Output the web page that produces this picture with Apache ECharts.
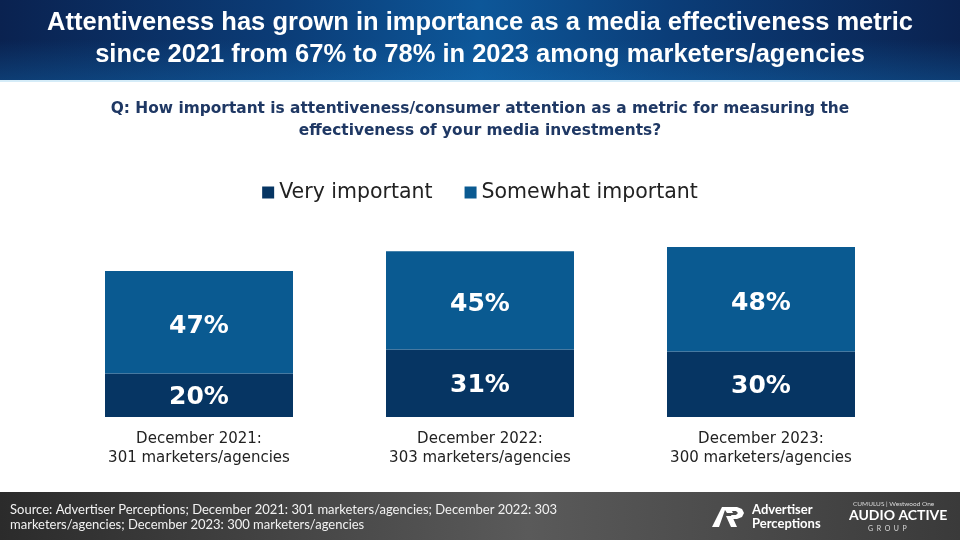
<!DOCTYPE html>
<html><head><meta charset="utf-8">
<script src="https://cdn.jsdelivr.net/npm/echarts@6/dist/echarts.min.js"></script>
<style>html,body{margin:0;padding:0;background:#fff}#c{width:960px;height:540px}</style>
</head><body><div id="c"></div>
<script>
const categories = ["December 2021:\n301 marketers/agencies", "December 2022:\n303 marketers/agencies", "December 2023:\n300 marketers/agencies"];
const veryImportant = [20, 31, 30];
const somewhatImportant = [47, 45, 48];
const seriesNames = ["Very important", "Somewhat important"];

const chart = echarts.init(document.getElementById('c'));
const font = 'Lato, "Open Sans", sans-serif';
const wide = '"DejaVu Sans", sans-serif';
chart.setOption({
  animation: false,
  backgroundColor: '#ffffff',
  graphic: [
    {type:'rect', shape:{x:0,y:0,width:960,height:80}, z:-1,
     style:{fill:new echarts.graphic.LinearGradient(0,0,1,0,[{offset:0,color:'#0a2250'},{offset:0.3,color:'#0b3d78'},{offset:0.5,color:'#0d5799'},{offset:0.7,color:'#0b3d78'},{offset:1,color:'#0a2250'}])}},
    {type:'rect', shape:{x:0,y:40,width:960,height:40}, z:-1,
     style:{fill:new echarts.graphic.LinearGradient(0,0,0,1,[{offset:0,color:'rgba(20,110,180,0)'},{offset:1,color:'rgba(20,110,180,0.35)'}])}},
    {type:'rect', shape:{x:0,y:80,width:960,height:2}, z:-1, style:{fill:'#d5ecf8'}},
    {type:'text', x:480, y:7, z:5, style:{text:'Attentiveness has grown in importance as a media effectiveness metric\nsince 2021 from 67% to 78% in 2023 among marketers/agencies', fill:'#ffffff', font:'bold 25.5px "Liberation Sans", Arial, sans-serif', lineHeight:32, align:'center'}},
    {type:'text', x:480, y:98, z:5, style:{text:'Q: How important is attentiveness/consumer attention as a metric for measuring the\neffectiveness of your media investments?', fill:'#1f3864', font:'bold 15.4px "DejaVu Sans", sans-serif', lineHeight:22, align:'center'}},
    {type:'rect', shape:{x:0,y:492,width:960,height:48}, z:-1,
     style:{fill:new echarts.graphic.LinearGradient(0,0,1,0,[{offset:0,color:'#2b2b2b'},{offset:0.55,color:'#5a5a5a'},{offset:1,color:'#3a3a3a'}])}},
    {type:'text', x:10, y:502, z:5, style:{text:'Source: Advertiser Perceptions; December 2021: 301 marketers/agencies; December 2022: 303\nmarketers/agencies; December 2023: 300 marketers/agencies', fill:'#f2f2f2', font:'13px '+font, lineHeight:15}},
    {type:'polygon', z:5, shape:{points:[[712,527],[722,507],[730,507],[733,513],[727,513],[725,510],[719,527]]}, style:{fill:'#ffffff'}},
    {type:'polygon', z:5, shape:{points:[[729,507],[737,507],[742,509],[744,513],[742,517],[737,519],[733,519],[731,515],[736,515],[738,513],[736,511],[731,511]]}, style:{fill:'#ffffff'}},
    {type:'polygon', z:5, shape:{points:[[726,516],[732,516],[737,527],[731,527]]}, style:{fill:'#ffffff'}},
    {type:'text', x:752, y:503, z:5, style:{text:'Advertiser\nPerceptions', fill:'#ffffff', font:'bold 13px '+font, lineHeight:14}},
    {type:'text', x:853, y:500, z:5, style:{text:'CUMULUS | Westwood One', fill:'#dddddd', font:'6.5px '+font}},
    {type:'text', x:849, y:508, z:5, style:{text:'AUDIO ACTIVE', fill:'#ffffff', font:'bold 14px '+font}},
    {type:'text', x:868, y:525, z:5, style:{text:'G  R  O  U  P', fill:'#dddddd', font:'7px '+font}}
  ],
  legend: {
    top:177, left:'center', itemWidth:12, itemHeight:12, itemGap:32,
    icon:'rect',
    textStyle:{fontSize:20.5, color:'#222', fontFamily:wide},
    data: seriesNames
  },
  grid: {left:58.5, right:58.5, top:199, height:218},
  xAxis: {
    type:'category', data:categories,
    axisLine:{show:false}, axisTick:{show:false},
    axisLabel:{fontSize:15, color:'#222', fontFamily:wide, lineHeight:19, margin:13}
  },
  yAxis: {type:'value', min:0, max:100, show:false, splitLine:{show:false}},
  series: [
    {name:seriesNames[0], type:'bar', stack:'t', data:veryImportant, barWidth:188,
     itemStyle:{color:'#063563'},
     label:{show:true, position:'inside', offset:[0,2], formatter:'{c}%', color:'#fff', fontSize:25, fontWeight:'bold', fontFamily:wide}},
    {name:seriesNames[1], type:'bar', stack:'t', data:somewhatImportant, barWidth:188,
     itemStyle:{color:'#0a5a91'},
     label:{show:true, position:'inside', offset:[0,4], formatter:'{c}%', color:'#fff', fontSize:25, fontWeight:'bold', fontFamily:wide}}
  ]
});
</script></body></html>
